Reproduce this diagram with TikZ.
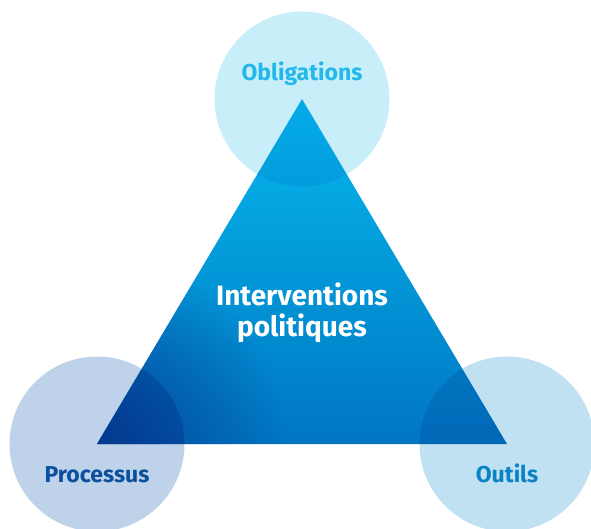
\documentclass[tikz,border=0pt]{standalone}
\usepackage{fontspec}
\setmainfont{Fira Sans}
\usetikzlibrary{fadings}

\definecolor{triTop}{HTML}{05B9EE}
\definecolor{triMid}{HTML}{0096D6}
\definecolor{triBot}{HTML}{0076C2}
\definecolor{triDark}{HTML}{06449C}
\definecolor{circTop}{HTML}{C7EEF9}
\definecolor{circLeft}{HTML}{BED3E9}
\definecolor{circRight}{HTML}{C0E1F1}
\definecolor{txtTop}{HTML}{22B8EC}
\definecolor{txtLeft}{HTML}{0B4F9F}
\definecolor{txtRight}{HTML}{0A82C6}

\tikzfading[name=glow, inner color=transparent!0, outer color=transparent!100]

\begin{document}
\begin{tikzpicture}[x=1pt,y=-1pt,
  lbl/.style={anchor=base,font=\fontsize{23}{26}\selectfont\bfseries},
  core/.style={anchor=base,text=white,font=\fontsize{28}{32}\selectfont\bfseries}]
  \useasboundingbox (0,0) rectangle (591,528);
  \coordinate (T) at (302,99);
  \coordinate (L) at (97,444);
  \coordinate (R) at (507,444);
  % triangle
  \shade[top color=triTop, middle color=triMid, bottom color=triBot] (T) -- (L) -- (R) -- cycle;
  \begin{scope}
    \clip (T) -- (L) -- (R) -- cycle;
    \fill[triDark, path fading=glow] (L) circle (190);
  \end{scope}
  % circles on the corners
  \begin{scope}[blend mode=multiply]
    \fill[circTop] (T) circle (87.5);
    \fill[circLeft] (L) circle (87.5);
    \fill[circRight] (R) circle (87.5);
  \end{scope}
  \node[lbl, text=txtTop] (oblig) at (302,80) {Obligations};
  \node[lbl, text=txtLeft] (proc) at (97,482) {Processus};
  \node[lbl, text=txtRight] (outils) at (507,482) {Outils};
  \node[core] (interv) at (302,305) {Interventions};
  \node[core] (polit) at (302,336) {politiques};
\end{tikzpicture}
\end{document}
